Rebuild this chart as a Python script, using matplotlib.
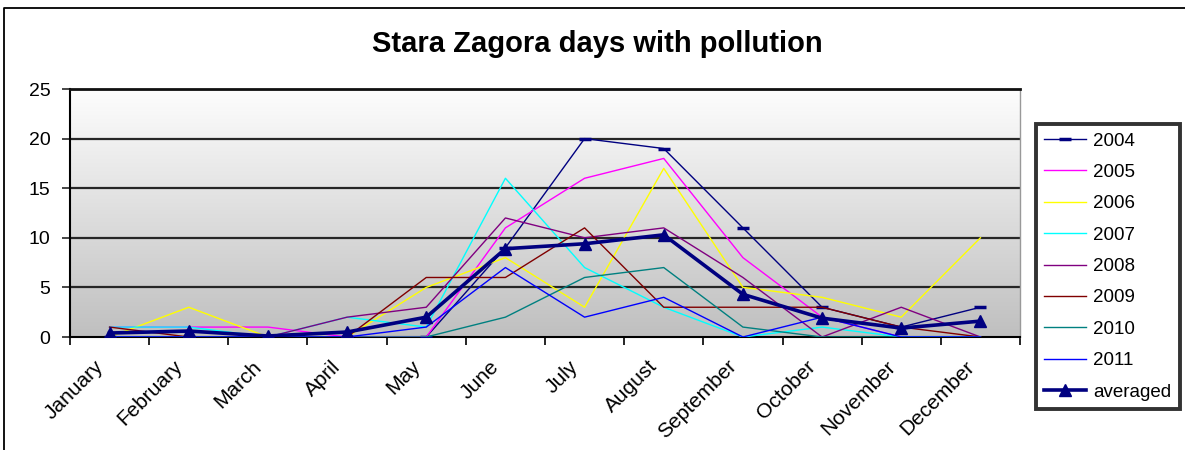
import matplotlib
matplotlib.use("Agg")
import matplotlib.pyplot as plt
import numpy as np
from matplotlib.lines import Line2D

months = ["January", "February", "March", "April", "May", "June", "July",
          "August", "September", "October", "November", "December"]

y2004 = [0, 0, 0, 0, 0, 9, 20, 19, 11, 3, 1, 3]
y2005 = [1, 1, 1, 0, 0, 11, 16, 18, 8, 2, 0, 0]
y2006 = [0, 3, 0, 0, 5, 8, 3, 17, 5, 4, 2, 10]
y2007 = [1, 1, 0, 2, 1, 16, 7, 3, 0, 1, 0, 0]
y2008 = [0, 0, 0, 2, 3, 12, 10, 11, 6, 0, 3, 0]
y2009 = [1, 0, 0, 0, 6, 6, 11, 3, 3, 3, 1, 0]
y2010 = [0, 0, 0, 0, 0, 2, 6, 7, 1, 0, 0, 0]
y2011 = [0, 0, 0, 0, 1, 7, 2, 4, 0, 2, 0, 0]
averaged = [0.4, 0.6, 0.1, 0.5, 2.0, 8.9, 9.4, 10.3, 4.3, 1.9, 0.9, 1.6]

yticks = [0, 5, 10, 15, 20, 25]

W, H = 1185, 450
fig = plt.figure(figsize=(W / 100, H / 100), dpi=100)
plt.rcParams['font.family'] = ['Liberation Sans', 'DejaVu Sans']

# outer chart border (left and top visible)
fig.lines.append(Line2D([3.5 / W, 3.5 / W, 1.0], [0.0, 1 - 8 / H, 1 - 8 / H],
                        transform=fig.transFigure, color='black', linewidth=1.3))

left, right, top, bottom = 70, 1020, 89, 337
ax = fig.add_axes([left / W, 1 - bottom / H, (right - left) / W, (bottom - top) / H])

x = np.arange(len(months))
ax.set_xlim(-0.5, len(months) - 0.5)
ax.set_ylim(0, 25)

# gradient background
grad = np.linspace(0.995, 0.75, 256).reshape(-1, 1)
grad_rgb = np.dstack([grad, grad, grad])
ax.imshow(grad_rgb, extent=[-0.5, len(months) - 0.5, 0, 25], aspect='auto',
          zorder=0, origin='upper')

for yv in yticks[1:]:
    ax.axhline(yv, color='#262626', linewidth=1.6, zorder=1)

series = [
    ("2004", y2004, "#000080"),
    ("2005", y2005, "#FF00FF"),
    ("2006", y2006, "#FFFF00"),
    ("2007", y2007, "#00FFFF"),
    ("2008", y2008, "#800080"),
    ("2009", y2009, "#800000"),
    ("2010", y2010, "#008080"),
    ("2011", y2011, "#0000FF"),
]
for name, vals, col in series:
    if name == "2004":
        ax.plot(x, vals, color=col, linewidth=1.0, marker='_', markersize=8,
                markeredgewidth=2.5, label=name, zorder=3)
    else:
        ax.plot(x, vals, color=col, linewidth=1.0, label=name, zorder=3)

ax.plot(x, averaged, color="#000080", linewidth=2.6, marker='^', markersize=9,
        label="averaged", zorder=4)

ax.set_yticks(yticks)
ax.set_yticklabels([str(v) for v in yticks], fontsize=14)
ax.tick_params(axis='y', direction='out', length=6, width=1.2, pad=8,
               color='#262626')

ax.set_xticks(np.arange(-0.5, len(months) + 0.5, 1.0))
ax.set_xticklabels([])
ax.tick_params(axis='x', direction='out', length=6, width=1.2)
for i, m in enumerate(months):
    ax.text(i - 0.2, -2.0, m, rotation=45, ha='right', va='top',
            rotation_mode='anchor', fontsize=15, transform=ax.transData,
            clip_on=False)

for s in ['left', 'bottom']:
    ax.spines[s].set_linewidth(1.5)
    ax.spines[s].set_color('black')
ax.spines['top'].set_linewidth(2.0)
ax.spines['top'].set_color('#111111')
ax.spines['right'].set_color('#999999')
ax.spines['right'].set_linewidth(1.0)

fig.text(597 / W, 1 - 44 / H, "Stara Zagora days with pollution",
         ha='center', va='center', fontsize=21, fontweight='bold')

leg = fig.legend(loc='upper left', bbox_to_anchor=(1036 / W, 1 - 124 / H),
                 fontsize=13.5, frameon=True, fancybox=False, borderpad=0.45,
                 labelspacing=0.76, handlelength=2.2, handletextpad=0.4,
                 borderaxespad=0.0)
leg.get_frame().set_edgecolor('black')
leg.get_frame().set_linewidth(2.8)
leg.get_frame().set_facecolor('white')

fig.savefig("out.png", dpi=100)
